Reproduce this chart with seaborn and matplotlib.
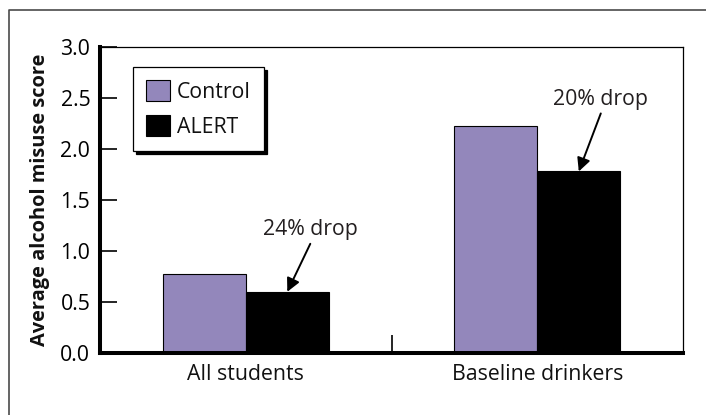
import matplotlib
matplotlib.use("Agg")
import matplotlib.pyplot as plt
import seaborn as sns
import pandas as pd
from matplotlib.lines import Line2D

# Data
groups = ["All students", "Baseline drinkers"]
conditions = ["Control", "ALERT"]
control_scores = [0.77, 2.23]
alert_scores = [0.60, 1.78]
drop_labels = ["24% drop", "20% drop"]
y_ticks = [0.0, 0.5, 1.0, 1.5, 2.0, 2.5, 3.0]

df = pd.DataFrame({
    "group": groups * 2,
    "condition": ["Control"] * len(groups) + ["ALERT"] * len(groups),
    "score": control_scores + alert_scores,
})

sns.set_theme(style="white")
plt.rcParams["font.family"] = ["Open Sans", "DejaVu Sans"]

FS = 15.3
W, H = 706, 415
fig = plt.figure(figsize=(W / 100, H / 100), dpi=100)
ax = fig.add_axes([100 / W, (H - 353) / H, 583 / W, 306 / H])

palette = {"Control": "#9387bb", "ALERT": "#000000"}
sns.barplot(data=df, x="group", y="score", hue="condition", order=groups,
            hue_order=conditions, palette=palette, width=0.57,
            edgecolor="black", linewidth=0.8, saturation=1, ax=ax,
            errorbar=None)

ax.set_xlim(-0.5, 1.5)
ax.set_ylim(0, 3.0)
ax.set_yticks(y_ticks)
ax.set_yticklabels([f"{v:.1f}" for v in y_ticks])
ax.set_xlabel("")
ax.set_ylabel("Average alcohol misuse score", fontsize=14.4, fontweight="bold",
              color="#111111")
ax.yaxis.set_label_coords(-0.086, 0.5)

ax.tick_params(axis="y", direction="in", length=12, width=1.2, pad=7,
               labelsize=FS, colors="black", left=True)
ax.tick_params(axis="x", which="major", length=0, pad=8, labelsize=FS,
               labelcolor="#111111")
ax.set_xticks([0.5], minor=True)
ax.tick_params(axis="x", which="minor", direction="in", length=13, width=1.2,
               bottom=True, color="black")

for side in ["left", "bottom"]:
    ax.spines[side].set_linewidth(2.9)
    ax.spines[side].set_color("black")
for side in ["top", "right"]:
    ax.spines[side].set_linewidth(0.9)
    ax.spines[side].set_color("black")

# Legend with a solid drop shadow
handles, labels = ax.get_legend_handles_labels()
leg = ax.legend(handles, labels, loc="upper left",
                bbox_to_anchor=(0.0566, 0.935), borderaxespad=0,
                fontsize=FS, frameon=True, fancybox=False,
                shadow={"color": "black", "alpha": 1.0},
                handlelength=1.12, handleheight=1.12, labelspacing=0.6,
                handletextpad=0.32, borderpad=0.62)
leg.get_frame().set_edgecolor("black")
leg.get_frame().set_linewidth(0.9)
for t in leg.get_texts():
    t.set_color("#111111")

# Drop annotations pointing at the ALERT bars
alert_bars = ax.containers[1]
text_offsets = [(23, 62), (22, 72)]
tail_offsets = [(23, 48), (22, 58)]
for bar, label, toff, aoff in zip(alert_bars, drop_labels, text_offsets,
                                  tail_offsets):
    tip = (bar.get_x() + bar.get_width() / 2, bar.get_height())
    ax.annotate("", xy=tip, xytext=aoff, textcoords="offset pixels",
                arrowprops=dict(arrowstyle="-|>", color="black", lw=1.4,
                                mutation_scale=20, shrinkA=0, shrinkB=0))
    ax.annotate(label, xy=tip, xytext=toff, textcoords="offset pixels",
                ha="center", va="center", fontsize=FS, color="#231f20")

# Outer frame (top and left edges)
fx = 8.5 / W
fy = 1 - 10.5 / H
fig.add_artist(Line2D([fx, fx, 1.0], [0.0, fy, fy], transform=fig.transFigure,
                      color="#4a4a4a", lw=1.2))

fig.savefig("out.png", dpi=100)
